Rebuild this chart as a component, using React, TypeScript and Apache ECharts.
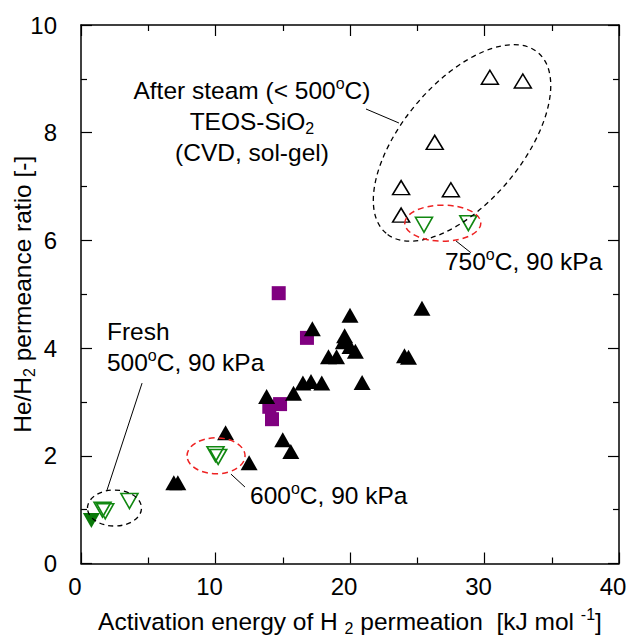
import React, { useEffect, useRef } from 'react';
import * as echarts from 'echarts';

// ---- data (x: activation energy [kJ/mol], y: He/H2 permeance ratio) ----
const blackFilled: number[][] = [
  [6.9, 1.5], [7.2, 1.5], [10.75, 2.43], [12.5, 1.87], [13.8, 3.1], [15.0, 2.3],
  [15.6, 2.08], [15.8, 3.16], [16.5, 3.35], [17.1, 3.38], [17.9, 3.35], [17.2, 4.36],
  [18.4, 3.84], [19.0, 3.84], [19.5, 4.12], [19.6, 4.23], [20.0, 4.03], [20.4, 3.94],
  [20.0, 4.61], [20.9, 3.36], [24.05, 3.86], [24.35, 3.83], [25.35, 4.74],
];
const purpleSquares: number[][] = [
  [14.7, 5.02], [16.8, 4.19], [14.0, 2.91], [14.8, 2.96], [14.2, 2.68],
];
const openBlackTriangles: number[][] = [
  [30.4, 9.03], [32.85, 8.96], [26.3, 7.82], [23.8, 6.98], [27.5, 6.94], [23.8, 6.47],
];
const openGreenInverted: number[][] = [
  [25.5, 6.29], [28.8, 6.32], [10.0, 2.03], [10.2, 1.98], [1.6, 1.0], [1.8, 0.97], [3.6, 1.16],
];
const filledGreenInverted: number[][] = [[0.77, 0.8]];

const xTicks = { min: 0, max: 40, interval: 10 };
const yTicks = { min: 0, max: 10, interval: 2 };

const FONT = '"Liberation Sans", Arial, Helvetica, sans-serif';
const FS = 24.5;

const richSubSup = {
  sub: { fontSize: 16, fontFamily: FONT, color: '#000', fill: '#000', verticalAlign: 'bottom', lineHeight: 17 },
  sup: { fontSize: 16, fontFamily: FONT, color: '#000', fill: '#000', verticalAlign: 'top', lineHeight: 17 },
};

export default function App() {
  const ref = useRef<HTMLDivElement>(null);
  useEffect(() => {
    const chart = echarts.init(ref.current!, null, { renderer: 'svg' });
    const lineStyle = { color: '#000', width: 1.5 };
    const tickStyle = { color: '#000', width: 1.2 };
    const mkX = (pos: 'top' | 'bottom', labels: boolean) => ({
      type: 'value',
      position: pos,
      ...xTicks,
      axisLine: { show: true, onZero: false, lineStyle },
      axisTick: { show: true, inside: true, length: 11, lineStyle: tickStyle },
      minorTick: { show: true, splitNumber: 2, length: 6, lineStyle: tickStyle },
      splitLine: { show: false },
      minorSplitLine: { show: false },
      axisLabel: labels
        ? { show: true, fontSize: 24, fontFamily: FONT, color: '#000', margin: 11, padding: [0, 12, 0, 0] }
        : { show: false },
    });
    const mkY = (pos: 'left' | 'right', labels: boolean) => ({
      type: 'value',
      position: pos,
      ...yTicks,
      axisLine: { show: true, onZero: false, lineStyle },
      axisTick: { show: true, inside: true, length: 11, lineStyle: tickStyle },
      minorTick: { show: true, splitNumber: 2, length: 6, lineStyle: tickStyle },
      splitLine: { show: false },
      minorSplitLine: { show: false },
      axisLabel: labels
        ? { show: true, fontSize: 24, fontFamily: FONT, color: '#000', margin: 24 }
        : { show: false },
    });

    const xMain: any = mkX('bottom', true);
    xMain.name = 'Activation energy of H {sub|2} permeation  [kJ mol {sup|-1}]';
    xMain.nameLocation = 'middle';
    xMain.nameGap = 43;
    xMain.nameMoveOverlap = false;
    xMain.nameTextStyle = { fontSize: FS, fontFamily: FONT, color: '#000', lineHeight: 30, rich: richSubSup };

    const yMain: any = mkY('left', true);
    yMain.name = 'He/H{sub|2} permeance ratio [-]';
    yMain.nameLocation = 'middle';
    yMain.nameGap = 44;
    yMain.nameMoveOverlap = false;
    yMain.nameTextStyle = { fontSize: FS, fontFamily: FONT, color: '#000', lineHeight: 30, rich: richSubSup };

    chart.setOption({
      animation: false,
      backgroundColor: '#fff',
      grid: { left: 81, right: 8, top: 25, bottom: 75.5, containLabel: false, outerBoundsMode: 'none' },
      xAxis: [xMain, mkX('top', false)],
      yAxis: [yMain, mkY('right', false)],
      series: [
        {
          type: 'scatter', name: 'sol-gel/CVD (purple)', data: purpleSquares,
          symbol: 'rect', symbolSize: 14, itemStyle: { color: '#800080', opacity: 1 }, z: 2,
        },
        {
          type: 'scatter', name: 'filled', data: blackFilled,
          symbol: 'triangle', symbolSize: [17, 15], itemStyle: { color: '#000', opacity: 1 }, z: 3,
        },
        {
          type: 'scatter', name: 'after steam', data: openBlackTriangles,
          symbol: 'triangle', symbolSize: [17, 14],
          itemStyle: { color: '#fff', borderColor: '#000', borderWidth: 1.5, opacity: 1 }, z: 3,
        },
        {
          type: 'scatter', name: 'this work', data: openGreenInverted,
          symbol: 'triangle', symbolRotate: 180, symbolSize: [17, 15],
          itemStyle: { color: 'rgba(255,255,255,0)', borderColor: '#118811', borderWidth: 1.6, opacity: 1 }, z: 4,
        },
        {
          type: 'scatter', name: 'fresh filled', data: filledGreenInverted,
          symbol: 'triangle', symbolRotate: 180, symbolSize: [17, 15],
          itemStyle: { color: '#0a7a0a', opacity: 1 }, z: 4,
        },
      ],
    });

    const P = (p: number[]) => chart.convertToPixel({ gridIndex: 0 }, p) as number[];
    const dashBlack = { fill: 'none', stroke: '#000', lineWidth: 1.3, lineDash: [5, 4] };
    const dashRed = { fill: 'none', stroke: '#ee2222', lineWidth: 1.5, lineDash: [6, 4] };
    const ellipse = (c: number[], rx: number, ry: number, rot: number, style: any) => {
      const p = P(c);
      return { type: 'ellipse', x: p[0], y: p[1], rotation: rot, shape: { cx: 0, cy: 0, rx, ry }, style, z: 100 };
    };
    const seg = (a: number[], b: number[]) => {
      const p = P(a), q = P(b);
      return { type: 'line', shape: { x1: p[0], y1: p[1], x2: q[0], y2: q[1] }, style: { stroke: '#000', lineWidth: 1 }, z: 100 };
    };
    const txt = (c: number[], text: string, align: string) => {
      const p = P(c);
      return {
        type: 'text', x: p[0], y: p[1], z: 100,
        style: {
          text, fontSize: FS, fontFamily: FONT, fill: '#000', lineHeight: 30,
          align, textAlign: align, verticalAlign: 'middle', textVerticalAlign: 'middle',
          rich: richSubSup,
        },
      };
    };

    chart.setOption({
      graphic: [
        ellipse([28.33, 7.81], 118, 60, (50 * Math.PI) / 180, dashBlack),
        ellipse([26.9, 6.32], 38, 18, 0, dashRed),
        ellipse([10.04, 2.0], 29, 18, 0, dashRed),
        ellipse([2.49, 1.03], 27, 18, 0, dashBlack),
        seg([21.19, 8.44], [23.64, 8.18]),
        seg([27.88, 5.99], [28.99, 5.77]),
        seg([11.15, 1.66], [12.19, 1.42]),
        seg([4.54, 3.35], [1.93, 1.36]),
        txt([12.71, 8.79], 'After steam (< 500{sup|o}C)', 'center'),
        txt([12.71, 8.2], 'TEOS-SiO{sub|2}', 'center'),
        txt([12.71, 7.64], '(CVD, sol-gel)', 'center'),
        txt([27.06, 5.6], '750{sup|o}C, 90 kPa', 'left'),
        txt([12.57, 1.27], '600{sup|o}C, 90 kPa', 'left'),
        txt([1.93, 4.3], 'Fresh', 'left'),
        txt([1.93, 3.74], '500{sup|o}C, 90 kPa', 'left'),
      ],
    });

    return () => chart.dispose();
  }, []);
  return (
    <div
      ref={ref}
      style={{ position: 'absolute', left: 0, top: 0, width: 627, height: 639, background: '#fff' }}
    />
  );
}
